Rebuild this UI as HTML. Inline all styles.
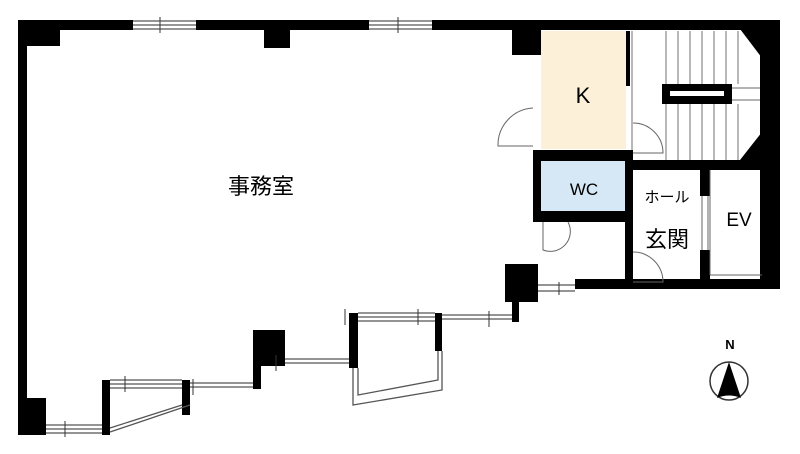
<!DOCTYPE html>
<html><head><meta charset="utf-8"><style>
html,body{margin:0;padding:0;background:#fff;width:800px;height:454px;overflow:hidden}
text{font-family:"Liberation Sans","Noto Sans CJK JP",sans-serif}
</style></head><body>
<svg width="800" height="454" viewBox="0 0 800 454" xmlns="http://www.w3.org/2000/svg">
<rect x="541" y="31" width="85" height="118" fill="#fdf0d8"/>
<rect x="541" y="161" width="86" height="50" fill="#d6e8f5"/>
<!-- stairs -->
<g stroke="#888" stroke-width="1.2">
<path d="M666 31V84M678 31V84M690 31V84M702 31V84M714 31V84M726 31V84M738 31V84"/>
<path d="M666 104V160M678 104V160M690 104V160M702 104V160M714 104V160M726 104V160M738 104V160"/>
<path d="M732 88H762M732 100H762M632 31V160"/>
</g>
<g fill="#000">
<rect x="18" y="20" width="115" height="10"/>
<rect x="196" y="20" width="173" height="10"/>
<rect x="432" y="20" width="348" height="10"/>
<rect x="18" y="20" width="42" height="26"/>
<rect x="264" y="20" width="26" height="28"/>
<rect x="512" y="20" width="29" height="35"/>
<rect x="18" y="20" width="9" height="415"/>
<rect x="18" y="398" width="28" height="37"/>
<rect x="760" y="20" width="20" height="265"/>
<path d="M740 29 L762 29 L762 58 Z"/>
<path d="M740 160 L762 160 L762 132 Z"/>
<rect x="575" y="279" width="205" height="10"/>
<rect x="533" y="150" width="8" height="72"/>
<rect x="533" y="150" width="100" height="11"/>
<rect x="533" y="211" width="95" height="11"/>
<rect x="626" y="31" width="4" height="55"/>
<rect x="625" y="160" width="8" height="125"/>
<rect x="633" y="160" width="130" height="10"/>
<rect x="700" y="170" width="10" height="26"/>
<rect x="700" y="250" width="10" height="35"/>
<rect x="662" y="84" width="70" height="20"/>
<rect x="505" y="264" width="33" height="38"/>
<rect x="512" y="300" width="7" height="22"/>
<rect x="253" y="330" width="32" height="36"/>
<rect x="253" y="360" width="8" height="29"/>
<rect x="349" y="313" width="9" height="55"/>
<rect x="435" y="313" width="7" height="38"/>
<rect x="102" y="380" width="8" height="55"/>
<rect x="182" y="380" width="8" height="35"/>
</g>
<rect x="670" y="91" width="54" height="5" fill="#fff"/>
<g stroke="#555" stroke-width="1.3" fill="none">
<path d="M133 21H196M133 25H196M133 29H196"/>
<path d="M369 21H432M369 25H432M369 29H432"/>
<path d="M46 425H102M46 429H102M46 433H102"/>
<path d="M110 380H182M110 384H182M110 388H182"/>
<path d="M190 383H253M190 387H253"/>
<path d="M285 359H349M285 363H349"/>
<path d="M358 313H435M358 317H435M358 321H435"/>
<path d="M442 315H512M442 319H512"/>
<path d="M538 285H575M538 291H575"/>
<path d="M110 432L190 405M110 428L182 405"/>
<path d="M358 368V395L438 380V351M353 368V405L442 390V351"/>
</g>
<g stroke="#333" stroke-width="1">
<path d="M160 17V33M398 17V33M65 421V437M125 376V392M193 379V395M276 355V371M345 309V325M418 309V325M489 311V327M559 282V295"/>
</g>
<g stroke="#666" stroke-width="1" fill="none">
<path d="M533 108 A37 37 0 0 0 498 146 H533"/>
<path d="M633 123 A30 30 0 0 1 663 153 H633"/>
<path d="M543 222 V250 A20 20 0 0 0 568 222"/>
<path d="M633 252 A30 30 0 0 1 663 282 H633"/>
<path d="M702 196 V250M708 196V250"/>
<path d="M710 275H762M710 170V275"/>
</g>
<text x="261" y="194" font-size="22" text-anchor="middle">事務室</text>
<text x="583" y="103" font-size="22" text-anchor="middle">K</text>
<text x="584" y="195" font-size="17" text-anchor="middle">WC</text>
<text x="667" y="202" font-size="15" text-anchor="middle">ホール</text>
<text x="667" y="247" font-size="22" text-anchor="middle">玄関</text>
<text x="739" y="226" font-size="19" text-anchor="middle">EV</text>
<text x="730" y="349" font-size="13" text-anchor="middle" font-weight="bold">N</text>
<circle cx="729" cy="381" r="19" fill="none" stroke="#333" stroke-width="1.5"/>
<path d="M729 362 L717 398 Q729 393 741 398 Z" fill="#000"/>
</svg>
</body></html>
